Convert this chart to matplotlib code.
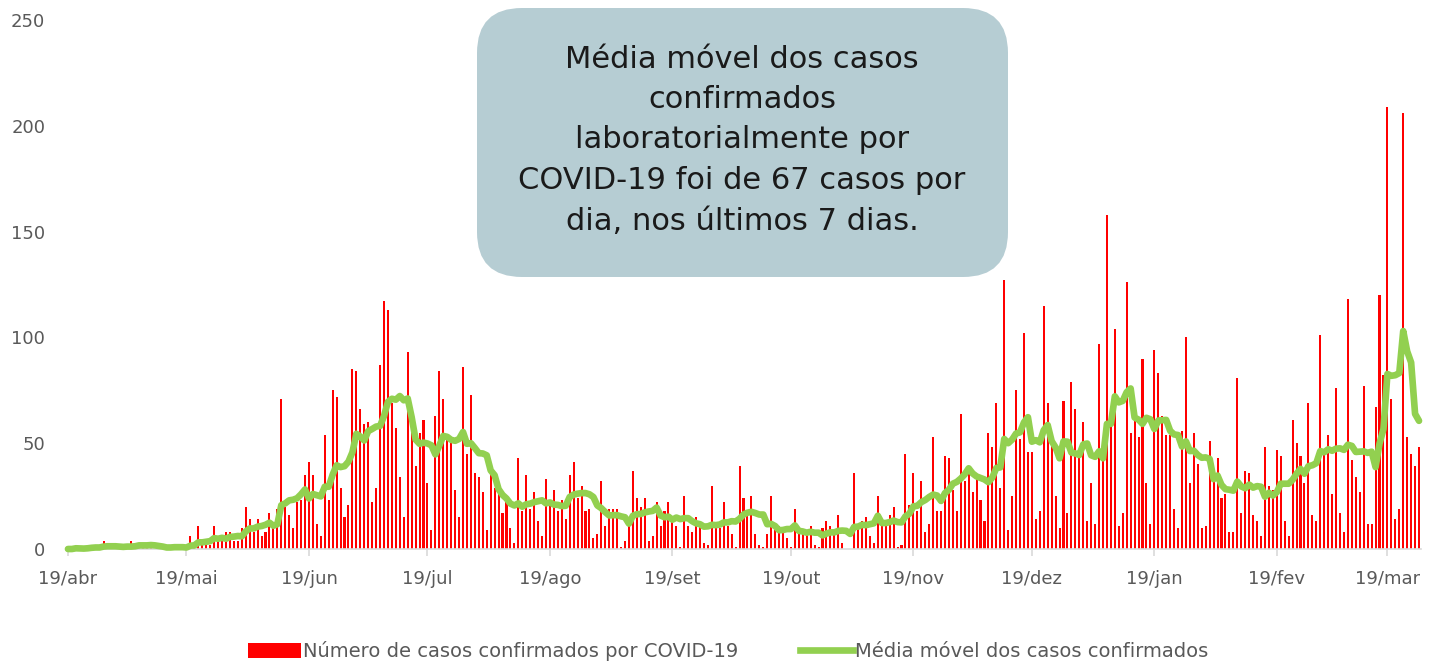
# casos confirmados por dia + media movel 7 dias

import numpy as np
import pandas as pd
import matplotlib
matplotlib.use("Agg")
import matplotlib.pyplot as plt
from matplotlib.patches import FancyBboxPatch, Patch
from matplotlib.lines import Line2D

inicio = "2020-04-19"

# casos confirmados por dia, 19/abr ate 27/mar
casos = [
    0, 0, 1, 0, 0, 1, 2, 1, 0, 4, 1, 0, 1, 1, 0, 1, 4, 2, 3, 1, 1, 1, 0, 2, 0, 0, 1, 2, 1, 0, 1,
    6, 1, 11, 2, 3, 2, 11, 4, 4, 8, 8,
    4, 4, 10, 20, 14, 8, 14, 6, 8, 17, 10, 19, 71, 20, 16, 10, 22, 23, 35, 41, 35, 12, 6, 54, 23,
    75, 72, 29, 15, 21, 85, 84, 66, 59, 60, 22, 29, 87, 117, 113, 69, 57, 34, 15, 93,
    55, 39, 55, 61, 31, 9, 63, 84, 71, 52, 51, 28, 15, 86, 45, 73, 36, 34, 27, 9, 36, 29, 27, 17,
    22, 10, 3, 43, 18, 35, 19, 27, 13, 6, 33, 21, 28, 18, 23, 14, 35, 41, 24,
    30, 18, 19, 5, 7, 32, 11, 19, 19, 19, 1, 4, 11, 37, 24, 20, 24, 4, 6, 22, 11, 18, 22, 14, 11,
    1, 25, 11, 8, 15, 11, 3, 2, 30, 10, 10, 22, 11, 7, 1, 39, 24, 16,
    25, 7, 2, 1, 7, 25, 9, 11, 8, 5, 1, 19, 7, 7, 7, 11, 2, 1, 10, 13, 11, 7, 16, 3, 0, 0, 36, 12,
    13, 15, 6, 3, 25, 12, 12, 16, 20, 1, 2, 45, 21, 36, 18,
    32, 8, 12, 53, 18, 18, 44, 43, 28, 18, 64, 32, 38, 27, 33, 23, 13, 55, 48, 69, 29, 127, 9, 25,
    75, 52, 102, 46, 46, 14, 18, 115, 69, 49, 25, 10, 70, 17, 79, 66,
    44, 60, 13, 31, 12, 97, 43, 158, 60, 104, 11, 17, 126, 55, 62, 53, 90, 31, 12, 94, 83, 63, 54,
    54, 19, 10, 56, 100, 31, 55, 40, 10, 11, 51, 33, 43, 24, 26, 8, 8, 81, 17, 37, 36,
    16, 13, 6, 48, 30, 28, 47, 44, 13, 6, 61, 50, 44, 31, 69, 16, 13, 101, 46, 54, 26, 76, 17, 8,
    118, 42, 34, 27, 77, 12, 12, 67, 120, 82, 209, 71, 14, 19, 206, 53, 45, 39, 48,
]

meses = ["abr", "mai", "jun", "jul", "ago", "set", "out", "nov", "dez", "jan", "fev", "mar"]

texto_caixa = ("Média móvel dos casos\nconfirmados\nlaboratorialmente por\n"
               "COVID-19 foi de 67 casos por\ndia, nos últimos 7 dias.")

legenda_barras = "Número de casos confirmados por COVID-19"
legenda_linha = "Média móvel dos casos confirmados"

vermelho = "#ff0000"
verde = "#92d050"
cinza = "#595959"

datas = pd.date_range(inicio, periods=len(casos))
x = np.arange(len(casos))
media = pd.Series(casos).rolling(7, min_periods=1).mean()

ticks = np.where(datas.day == 19)[0]
tick_labels = ["19/" + m for m in meses]

fig = plt.figure(figsize=(14.43, 6.64), dpi=100)
ax = fig.add_axes([66 / 1443, 115 / 664, 1355 / 1443, 529 / 664])

ax.bar(x, casos, width=0.52, color=vermelho, linewidth=0, zorder=2)
ax.plot(x, media, color=verde, lw=4.8, solid_capstyle="round", zorder=3, clip_on=False)

ax.set_xlim(-0.5, 342.5)
ax.set_ylim(0, 250)
ax.set_yticks([0, 50, 100, 150, 200, 250])
ax.set_xticks(ticks)
ax.set_xticklabels(tick_labels)

for s in ["top", "right", "left"]:
    ax.spines[s].set_visible(False)
ax.spines["bottom"].set_color("#d9d9d9")
ax.spines["bottom"].set_linewidth(1.2)

ax.tick_params(axis="y", length=0, pad=15, labelsize=13, labelcolor=cinza)
ax.tick_params(axis="x", length=5, width=1.2, color="#d9d9d9", pad=10,
               labelsize=13, labelcolor=cinza)

# caixa com o texto
caixa = FancyBboxPatch((4.77, 3.87), 5.31, 2.69,
                       boxstyle="round,pad=0,rounding_size=0.45",
                       transform=fig.dpi_scale_trans, facecolor="#b6cdd3",
                       edgecolor="none", zorder=5)
fig.add_artist(caixa)
fig.text(742 / 1443, (664 - 140) / 664, texto_caixa, ha="center", va="center",
         fontsize=22, color="#1a1a1a", linespacing=1.5, zorder=6)

# legenda
handles = [Patch(facecolor=vermelho, edgecolor="none"),
           Line2D([0], [0], color=verde, lw=4.8)]
fig.legend(handles, [legenda_barras, legenda_linha], loc="center",
           bbox_to_anchor=(728 / 1443, (664 - 651) / 664), ncol=2, frameon=False,
           fontsize=14, labelcolor=cinza, handlelength=2.7, handleheight=0.85,
           handletextpad=0.1, columnspacing=3.2)

fig.savefig("out.png", dpi=100)
